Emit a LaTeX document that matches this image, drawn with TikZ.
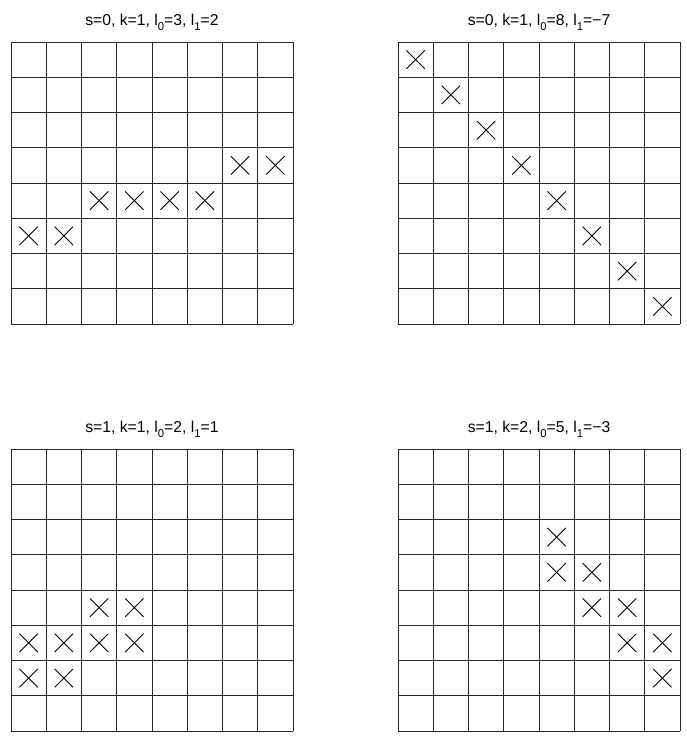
\documentclass[tikz,border=0pt]{standalone}
\usepackage{fontspec}
\setmainfont{Liberation Sans}
\usetikzlibrary{positioning}

% lowered index after the letter l
\newcommand{\lidx}[1]{l\raisebox{-0.65ex}{\fontsize{8.5}{9}\selectfont #1}}

\tikzset{
  gridline/.style={line width=0.65pt, black!85},
  crossline/.style={line width=0.65pt, black},
  paneltitle/.style={anchor=base, inner sep=0pt, font=\fontsize{11.8}{14}\selectfont},
  cell/.style={x=26.4375pt, y=-26.4375pt}
}

% one 8x8 board with crosses at the listed column/row pairs
\newcommand{\board}[2]{%
  \begin{scope}[shift={#1}, cell]
    \foreach \i in {0,...,8} {
      \draw[gridline] (\i,0) -- (\i,8);
      \draw[gridline] (0,\i) -- (8,\i);
    }
    \foreach \c/\r in {#2} {
      \draw[crossline] (\c-0.76,\r-0.76) -- (\c-0.24,\r-0.24);
      \draw[crossline] (\c-0.76,\r-0.24) -- (\c-0.24,\r-0.76);
    }
  \end{scope}}

\begin{document}
\begin{tikzpicture}[x=0.75pt, y=-0.75pt]
  \useasboundingbox (0,0) rectangle (686,736);

  % upper row of boards
  \node[paneltitle] (titleA) at (152,25) {s=0, k=1, \lidx{0}=3, \lidx{1}=2};
  \board{(8.25pt,-31.5pt)}{7/4, 8/4, 3/5, 4/5, 5/5, 6/5, 1/6, 2/6}

  \node[paneltitle] (titleB) at (539,25) {s=0, k=1, \lidx{0}=8, \lidx{1}=−7};
  \board{(298.5pt,-31.5pt)}{1/1, 2/2, 3/3, 4/4, 5/5, 6/6, 7/7, 8/8}

  % lower row of boards
  \node[paneltitle] (titleC) at (152,432) {s=1, k=1, \lidx{0}=2, \lidx{1}=1};
  \board{(8.25pt,-336.75pt)}{3/5, 4/5, 1/6, 2/6, 3/6, 4/6, 1/7, 2/7}

  \node[paneltitle] (titleD) at (539,432) {s=1, k=2, \lidx{0}=5, \lidx{1}=−3};
  \board{(298.5pt,-336.75pt)}{5/3, 5/4, 6/4, 6/5, 7/5, 7/6, 8/6, 8/7}
\end{tikzpicture}
\end{document}
